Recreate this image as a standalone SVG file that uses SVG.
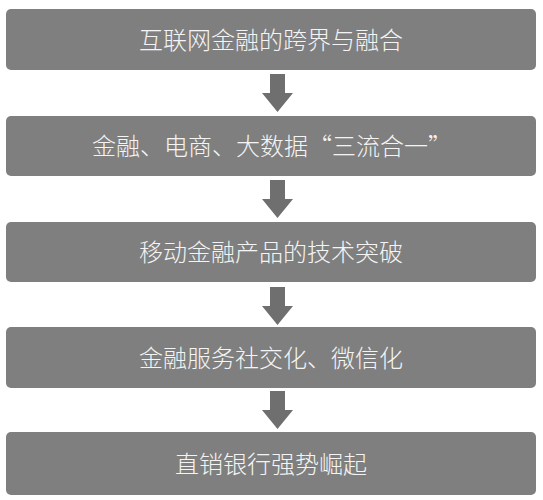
<svg xmlns="http://www.w3.org/2000/svg" xmlns:xlink="http://www.w3.org/1999/xlink" width="543" height="500" viewBox="0 0 543 500">
<style>
.box{fill:#7f7f7f;}
.lbl{fill:#f4f4f4;font-family:"Noto Sans CJK SC","Noto Sans CJK TC",sans-serif;font-size:24px;font-weight:300;text-anchor:middle;}
.arr{fill:#6f6f6f;}
</style>
<defs>
<path id="arrow" d="M-7.5,0 H7.5 V19 H15.5 L0,38 L-15.5,19 H-7.5 Z"/>
</defs>
<rect width="543" height="500" fill="#ffffff"/>
<g id="connectors" class="arr">
<use xlink:href="#arrow" href="#arrow" x="277.5" y="74"/>
<use xlink:href="#arrow" href="#arrow" x="277.5" y="180"/>
<use xlink:href="#arrow" href="#arrow" x="277.5" y="287"/>
<use xlink:href="#arrow" href="#arrow" x="277.5" y="391"/>
</g>
<g id="node1"><rect class="box" x="6" y="9" width="530" height="61" rx="5"/><text class="lbl" x="271" y="49">互联网金融的跨界与融合</text></g>
<g id="node2"><rect class="box" x="6" y="116" width="530" height="60" rx="5"/><text class="lbl" x="272" y="155">金融、电商、大数据“三流合一”</text></g>
<g id="node3"><rect class="box" x="6" y="222" width="530" height="60" rx="5"/><text class="lbl" x="271" y="261">移动金融产品的技术突破</text></g>
<g id="node4"><rect class="box" x="6" y="327" width="530" height="61" rx="5"/><text class="lbl" x="271" y="366.5">金融服务社交化、微信化</text></g>
<g id="node5"><rect class="box" x="6" y="432" width="530" height="63" rx="5"/><text class="lbl" x="271" y="472.5">直销银行强势崛起</text></g>
</svg>
